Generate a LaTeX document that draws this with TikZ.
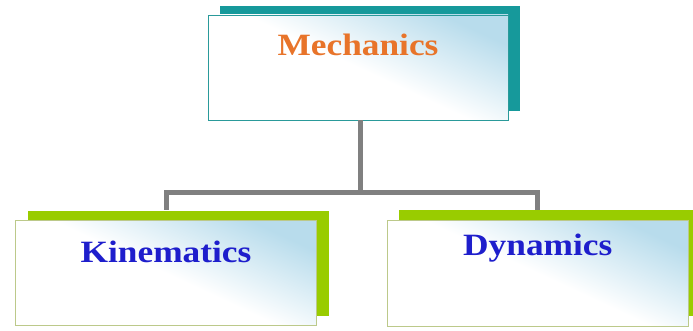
\documentclass[tikz,border=0pt]{standalone}
\usepackage{fontspec}
\setmainfont{Liberation Serif}
\usepackage{graphicx}
\usepackage{xcolor}
\definecolor{mainDark}{HTML}{2A9A9A}
\definecolor{tealShadow}{HTML}{16999B}
\definecolor{greenShadow}{HTML}{99CC00}
\definecolor{greenEdge}{HTML}{BCC98A}
\definecolor{skyColor}{HTML}{B8DCEC}
\definecolor{lineGrey}{HTML}{808080}
\definecolor{titleOrange}{HTML}{E8742A}
\definecolor{titleBlue}{HTML}{1E1ECC}
\usepackage{tikz}
\usetikzlibrary{positioning,calc,shadows}
\newcommand{\wideText}[1]{\scalebox{1.14}[1]{#1}}
\tikzset{
  topBox/.style={
    rectangle,
    draw=mainDark,
    thick,
    top color=skyColor,
    bottom color=white,
    middle color=white,
    shading angle=-25,
    inner sep=0pt,
    minimum width=300pt,
    text height=41pt,
    text depth=64pt,
    font=\fontsize{31}{34}\selectfont\bfseries,
    text=titleOrange,
    drop shadow={shadow xshift=12pt, shadow yshift=9pt, fill=tealShadow, opacity=1}
 },
  subBox/.style={
    rectangle,
    draw=greenEdge,
    thick,
    top color=skyColor,
    bottom color=white,
    middle color=white,
    shading angle=-25,
    inner sep=0pt,
    minimum width=301pt,
    text height=42pt,
    text depth=63pt,
    font=\fontsize{31}{34}\selectfont\bfseries,
    text=titleBlue,
    drop shadow={shadow xshift=12pt, shadow yshift=10pt, fill=greenShadow, opacity=1}
 },
  connLine/.style={
    line width=5pt,
    color=lineGrey
 }
}

\begin{document}
\begin{tikzpicture}[x=1pt,y=1pt]
            \useasboundingbox[fill=white] (0,0) rectangle (693,330);
            % Mechanics box
            \node[topBox] (mech) at (358,262.5) {\wideText{Mechanics}};
            % Kinematics box
            \node[subBox, below=100pt of mech, xshift=-192pt] (kin) {\wideText{Kinematics}};
            % Dynamics box
            \node[subBox, right=70pt of kin, text height=35pt, text depth=71pt] (dyn) {\wideText{Dynamics}};

            \coordinate (split) at ($(mech.south)+(2,-72)$);
            \draw[connLine] (mech.south) ++(2,0) -- (split);
            \draw[connLine, shorten >=10pt] ($(split)+(2.5,0)$) -| (kin.north);
            \draw[connLine, shorten >=10pt] ($(split)+(-2.5,0)$) -| (dyn.north);
        \end{tikzpicture}
\end{document}
